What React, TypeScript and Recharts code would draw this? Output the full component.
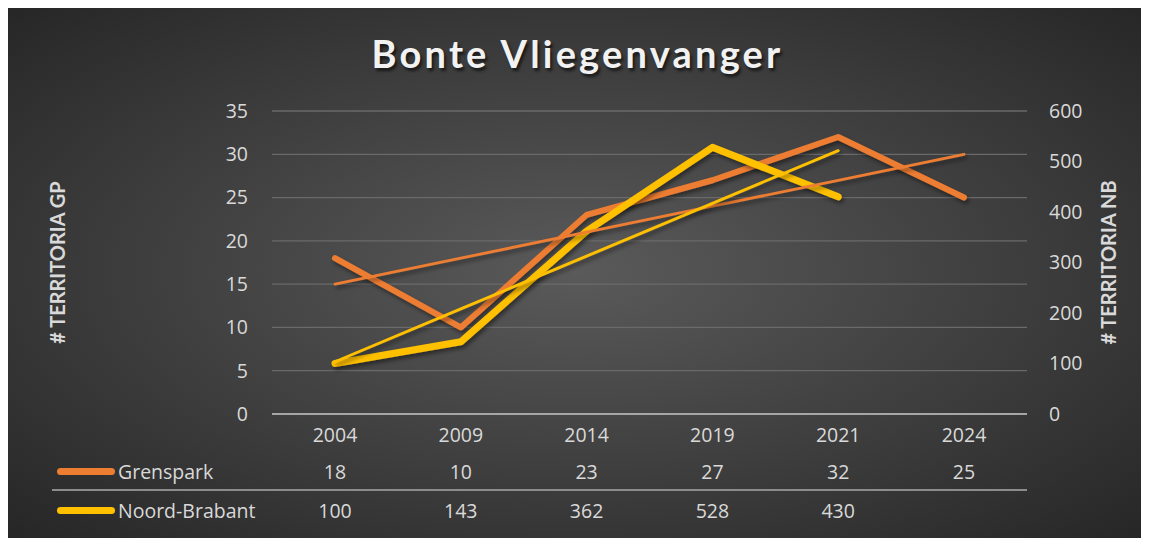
import React from 'react'
import { LineChart, Line, XAxis, YAxis, CartesianGrid } from 'recharts'

const years = ['2004', '2009', '2014', '2019', '2021', '2024']
const grenspark = [18, 10, 23, 27, 32, 25]
const noordBrabant: (number | null)[] = [100, 143, 362, 528, 430, null]
// linear trend lines as seen on the chart
const grensparkTrend = [15, 18, 21, 24, 27, 30]
const noordBrabantTrend: (number | null)[] = [103.6, 208.1, 312.6, 417.1, 521.6, null]
const leftTicks = [0, 5, 10, 15, 20, 25, 30, 35]
const rightTicks = [0, 100, 200, 300, 400, 500, 600]
const seriesNames = ['Grenspark', 'Noord-Brabant']
const title = 'Bonte Vliegenvanger'

const ORANGE = '#ED7D31'
const YELLOW = '#FFC000'
const TXT = '#d9d9d9'
const FONT = '"Open Sans", Lato, sans-serif'
const TITLE_FONT = 'Lato, "Open Sans", sans-serif'
const FS = 19.5

const data = years.map((y, i) => ({
  year: y,
  gp: grenspark[i],
  nb: noordBrabant[i],
  gpTrend: grensparkTrend[i],
  nbTrend: noordBrabantTrend[i],
}))

function TableTick(props: any) {
  const { x, y, payload } = props
  const i = years.indexOf(payload.value)
  const st = { fill: TXT, fontSize: FS, fontFamily: FONT }
  return (
    <g>
      <text x={x} y={y + 20} textAnchor="middle" dominantBaseline="central" {...st}>{payload.value}</text>
      <text x={x} y={y + 57} textAnchor="middle" dominantBaseline="central" {...st}>{grenspark[i]}</text>
      {noordBrabant[i] != null && (
        <text x={x} y={y + 96} textAnchor="middle" dominantBaseline="central" {...st}>{noordBrabant[i]}</text>
      )}
    </g>
  )
}

function AxisTitle({ viewBox, value, dx }: any) {
  const cx = viewBox.x + dx
  const cy = viewBox.y + viewBox.height / 2
  return (
    <text x={cx} y={cy} transform={`rotate(-90 ${cx} ${cy})`} textAnchor="middle" dominantBaseline="central"
      fill={TXT} fontSize={20} fontWeight={700} fontFamily={TITLE_FONT}>{value}</text>
  )
}

export default function App() {
  const W = 1143, H = 533
  return (
    <div style={{ position: 'relative', width: W, height: H, margin: '-3px 0 0 -2px', fontFamily: FONT,
      background: 'radial-gradient(ellipse at 50% 50%, #5a5a5a 0%, #262626 100%)' }}>
      <svg width={0} height={0} style={{ position: 'absolute' }}>
        <defs>
          <filter id="lineShadow" x="-10%" y="-10%" width="120%" height="130%">
            <feDropShadow dx={2} dy={3} stdDeviation={2} floodColor="#000" floodOpacity={0.45} />
          </filter>
        </defs>
      </svg>
      <div style={{ position: 'absolute', left: 0, top: 26, width: W, textAlign: 'center', color: '#f2f2f2',
        fontFamily: TITLE_FONT, fontSize: 38, fontWeight: 700, letterSpacing: 3.2, lineHeight: '44px',
        textShadow: '2px 3px 3px rgba(0,0,0,0.6)' }}>
        {title}
      </div>
      <LineChart width={W} height={H} data={data} margin={{ top: 106, right: 22, left: 0, bottom: 0 }}>
        <CartesianGrid yAxisId="left" vertical={false} stroke="#6a6a6a" strokeWidth={1.3} />
        <XAxis dataKey="year" height={124} tick={<TableTick />} tickLine={false} tickSize={0} tickMargin={0}
          axisLine={{ stroke: '#a6a6a6', strokeWidth: 2 }} interval={0} padding={{ left: 63, right: 63 }} />
        <YAxis yAxisId="left" width={266} domain={[0, 35]} ticks={leftTicks} axisLine={false} tickLine={false}
          tickSize={0} tickMargin={24} tick={{ fill: TXT, fontSize: FS, fontFamily: FONT }}
          label={{ value: '# TERRITORIA GP', content: (p: any) => <AxisTitle {...p} value="# TERRITORIA GP" dx={51} /> }} />
        <YAxis yAxisId="right" orientation="right" width={100} domain={[0, 600]} ticks={rightTicks} axisLine={false}
          tickLine={false} tickSize={0} tickMargin={22} tick={{ fill: TXT, fontSize: FS, fontFamily: FONT, textAnchor: 'start' }}
          label={{ value: '# TERRITORIA NB', content: (p: any) => <AxisTitle {...p} value="# TERRITORIA NB" dx={81} /> }} />
        <Line yAxisId="left" dataKey="gp" stroke={ORANGE} strokeWidth={6} dot={false} isAnimationActive={false}
          strokeLinecap="round" strokeLinejoin="round" filter="url(#lineShadow)" />
        <Line yAxisId="right" dataKey="nb" stroke={YELLOW} strokeWidth={7} dot={false} isAnimationActive={false}
          strokeLinecap="round" strokeLinejoin="round" filter="url(#lineShadow)" />
        <Line yAxisId="left" dataKey="gpTrend" stroke={ORANGE} strokeWidth={2.8} dot={false} isAnimationActive={false}
          strokeLinecap="round" filter="url(#lineShadow)" />
        <Line yAxisId="right" dataKey="nbTrend" stroke={YELLOW} strokeWidth={2.8} dot={false} isAnimationActive={false}
          strokeLinecap="round" filter="url(#lineShadow)" />
      </LineChart>
      {seriesNames.map((n, i) => (
        <div key={n} style={{ position: 'absolute', left: 51, top: 466 + i * 39 - 13, height: 26, display: 'flex', alignItems: 'center' }}>
          <div style={{ width: 58, height: 7, borderRadius: 4, background: i === 0 ? ORANGE : YELLOW }} />
          <span style={{ marginLeft: 3, color: TXT, fontSize: FS }}>{n}</span>
        </div>
      ))}
      <div style={{ position: 'absolute', left: 46, top: 484, width: 975, height: 2, background: '#8c8c8c' }} />
    </div>
  )
}
